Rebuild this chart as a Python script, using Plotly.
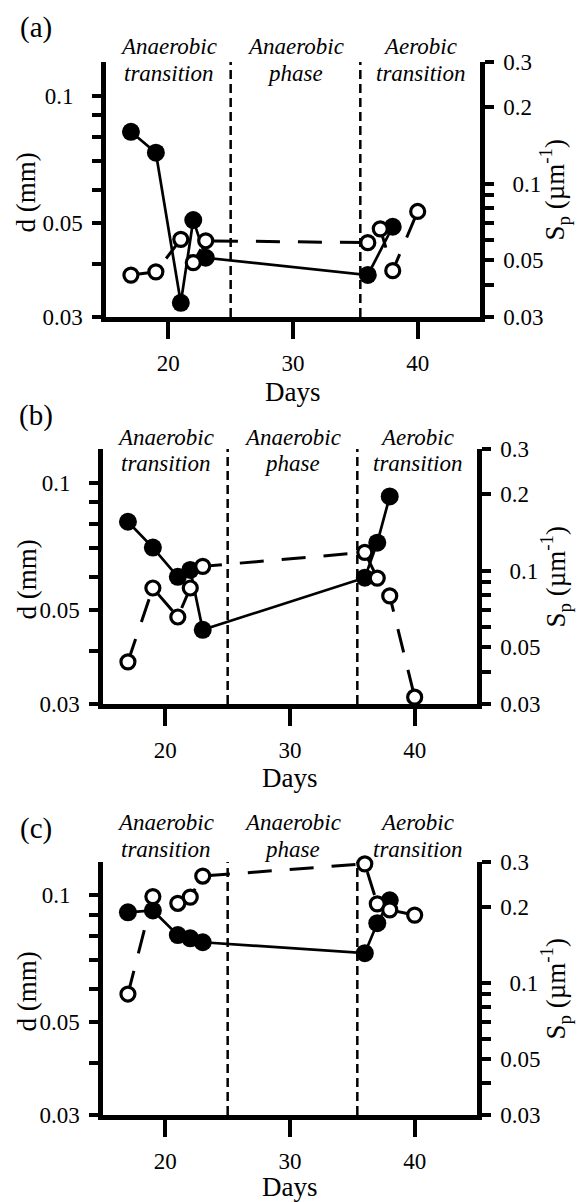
import math
import plotly.graph_objects as go

W, H = 581, 1202

# ---------------- data ----------------
panel_labels = ["(a)", "(b)", "(c)"]

days_d_a = [17, 19, 21, 22, 23, 36, 38]
d_a = [0.0821, 0.0733, 0.0324, 0.0508, 0.0414, 0.0377, 0.0490]
days_sp_a = [17, 19, 21, 22, 23, 36, 37, 38, 40]
sp_a = [0.0438, 0.0451, 0.0605, 0.0490, 0.0597, 0.0587, 0.0665, 0.0456, 0.0778]

days_d_b = [17, 19, 21, 22, 23, 36, 37, 38]
d_b = [0.0808, 0.0702, 0.0599, 0.0622, 0.0449, 0.0596, 0.0721, 0.0927]
days_sp_b = [17, 19, 21, 22, 23, 36, 37, 38, 40]
sp_b = [0.0439, 0.0855, 0.0658, 0.0855, 0.104, 0.118, 0.0935, 0.0796, 0.0319]

days_d_c = [17, 19, 21, 22, 23, 36, 37, 38]
d_c = [0.0911, 0.0920, 0.0804, 0.0790, 0.0773, 0.0728, 0.0858, 0.0973]
days_sp_c = [17, 19, 21, 22, 23, 36, 37, 38, 40]
sp_c = [0.0902, 0.219, 0.206, 0.218, 0.264, 0.295, 0.205, 0.194, 0.185]

phase_bounds = [25, 35.4]
phase_names = [("Anaerobic", "transition"), ("Anaerobic", "phase"), ("Aerobic", "transition")]

x_range = [15, 45]
x_ticks = [20, 30, 40]
d_range = [0.03, 0.12]
d_ticks = [0.03, 0.05, 0.1]
d_ticktext = ["0.03", "0.05", "0.1\u2009\u2009"]
d_minor = [0.04, 0.06, 0.07, 0.08, 0.09]
sp_range = [0.03, 0.3]
sp_ticks = [0.03, 0.05, 0.1, 0.2, 0.3]
sp_ticktext = ["0.03", "0.05", "\u2009\u20090.1", "0.2", "0.3"]
sp_minor = [0.04, 0.06, 0.07, 0.08, 0.09]
decade_ticks = [0.1]

panels = [
    (days_d_a, d_a, days_sp_a, sp_a),
    (days_d_b, d_b, days_sp_b, sp_b),
    (days_d_c, d_c, days_sp_c, sp_c),
]

# ---------------- layout geometry (pixels) ----------------
boxes = [  # x0, x1, ytop, ybottom
    (106, 480, 62, 317),
    (103, 477, 449, 704),
    (103, 477, 862, 1115),
]
header_shifts = [(15, -12), (12, -14), (40, 13)]
days_offsets = [75, 74, 72]

FONT = "Liberation Serif"


def fx(px):
    return px / W


def fy(py):
    return 1 - py / H


fig = go.Figure()
layout = dict(
    width=W, height=H, autosize=False,
    margin=dict(l=0, r=0, t=0, b=0, pad=0),
    paper_bgcolor="white", plot_bgcolor="white",
    showlegend=False,
    font=dict(family=FONT, size=23, color="black"),
)
shapes = []
annotations = []

for i, (dd, dv, ds, sv) in enumerate(panels):
    n = i + 1
    base = 4 * i + 1
    xname = "x" if n == 1 else f"x{n}"
    yl = "y" if base == 1 else f"y{base}"
    yr = f"y{base + 1}"
    x0, x1, yt, yb = boxes[i]

    fig.add_trace(go.Scatter(
        x=dd, y=dv, xaxis=xname, yaxis=yl, mode="lines+markers",
        line=dict(color="black", width=2.7),
        marker=dict(size=18, color="black", line=dict(width=0)),
        cliponaxis=False,
    ))
    fig.add_trace(go.Scatter(
        x=ds, y=sv, xaxis=xname, yaxis=yr, mode="lines+markers",
        line=dict(color="black", width=3, dash="24px,18px"),
        marker=dict(size=14, color="white", line=dict(width=3.2, color="black")),
        cliponaxis=False,
    ))

    xdom = [fx(x0), fx(x1)]
    ydom = [fy(yb), fy(yt)]
    common = dict(showgrid=False, zeroline=False, layer="below traces", automargin=False)

    layout["xaxis" if n == 1 else f"xaxis{n}"] = dict(
        domain=xdom, range=x_range, anchor=yl,
        showline=True, linewidth=4.5, linecolor="black",
        ticks="outside", ticklen=17, tickwidth=4, tickcolor="black",
        tickmode="array", tickvals=x_ticks, ticklabelstandoff=5,
        tickfont=dict(family=FONT, size=23), **common)

    layout["yaxis" if base == 1 else f"yaxis{base}"] = dict(
        domain=ydom, type="log", range=[math.log10(d_range[0]), math.log10(d_range[1])],
        anchor=xname, side="left",
        showline=True, linewidth=4.5, linecolor="black",
        ticks="outside", ticklen=9, tickwidth=4, tickcolor="black",
        tickmode="array", tickvals=d_ticks, ticktext=d_ticktext, ticklabelstandoff=5,
        minor=dict(tickmode="array", tickvals=d_minor, ticks="outside", ticklen=9,
                   tickwidth=4, tickcolor="black", showgrid=False),
        tickfont=dict(family=FONT, size=23), **common)

    layout[f"yaxis{base + 1}"] = dict(
        domain=ydom, type="log", range=[math.log10(sp_range[0]), math.log10(sp_range[1])],
        anchor=xname, side="right", overlaying=yl,
        showline=True, linewidth=4.5, linecolor="black",
        ticks="outside", ticklen=9, tickwidth=4, tickcolor="black",
        tickmode="array", tickvals=sp_ticks, ticktext=sp_ticktext, ticklabelstandoff=5,
        minor=dict(tickmode="array", tickvals=sp_minor, ticks="outside", ticklen=9,
                   tickwidth=4, tickcolor="black", showgrid=False),
        tickfont=dict(family=FONT, size=23), **common)

    layout[f"yaxis{base + 2}"] = dict(
        domain=ydom, type="log", range=[math.log10(d_range[0]), math.log10(d_range[1])],
        anchor=xname, side="left", overlaying=yl, showline=False,
        ticks="outside", ticklen=17, tickwidth=4, tickcolor="black",
        tickmode="array", tickvals=decade_ticks, showticklabels=False, **common)

    layout[f"yaxis{base + 3}"] = dict(
        domain=ydom, type="log", range=[math.log10(sp_range[0]), math.log10(sp_range[1])],
        anchor=xname, side="right", overlaying=yl, showline=False,
        ticks="outside", ticklen=17, tickwidth=4, tickcolor="black",
        tickmode="array", tickvals=decade_ticks, showticklabels=False, **common)

    for b in phase_bounds:
        shapes.append(dict(type="line", xref=xname, yref=f"{yl} domain",
                           x0=b, x1=b, y0=0, y1=1,
                           line=dict(color="black", width=2.5, dash="9px,5px")))

    edges = [x_range[0]] + phase_bounds + [x_range[1]]
    s1, s2 = header_shifts[i]
    for k, (l1, l2) in enumerate(phase_names):
        cx = (edges[k] + edges[k + 1]) / 2
        for txt, sh in ((l1, s1), (l2, s2)):
            annotations.append(dict(
                x=cx, y=1, xref=xname, yref=f"{yl} domain", text=f"<i>{txt}</i>",
                showarrow=False, xanchor="center", yanchor="middle", yshift=sh,
                font=dict(family=FONT, size=23)))

    annotations.append(dict(x=fx(36), y=fy(yt - 34), xref="paper", yref="paper",
                            text=panel_labels[i], showarrow=False,
                            xanchor="center", yanchor="middle",
                            font=dict(family=FONT, size=29)))
    annotations.append(dict(x=fx(26), y=fy((yt + yb) / 2 + 3), xref="paper", yref="paper",
                            text="d (mm)", showarrow=False, textangle=-90,
                            xanchor="center", yanchor="middle",
                            font=dict(family=FONT, size=27)))
    annotations.append(dict(x=fx(555), y=fy((yt + yb) / 2), xref="paper", yref="paper",
                            text="S<sub>p</sub> (\u00b5m<sup>-1</sup>)", showarrow=False,
                            textangle=-90, xanchor="center", yanchor="middle",
                            font=dict(family=FONT, size=27)))
    annotations.append(dict(x=fx((x0 + x1) / 2), y=fy(yb + days_offsets[i]),
                            xref="paper", yref="paper",
                            text="Days", showarrow=False,
                            xanchor="center", yanchor="middle",
                            font=dict(family=FONT, size=27)))

layout["shapes"] = shapes
layout["annotations"] = annotations
fig.update_layout(**layout)
fig.write_html("out.html", config={"displayModeBar": False},
               post_script="document.body.style.margin='0';")
